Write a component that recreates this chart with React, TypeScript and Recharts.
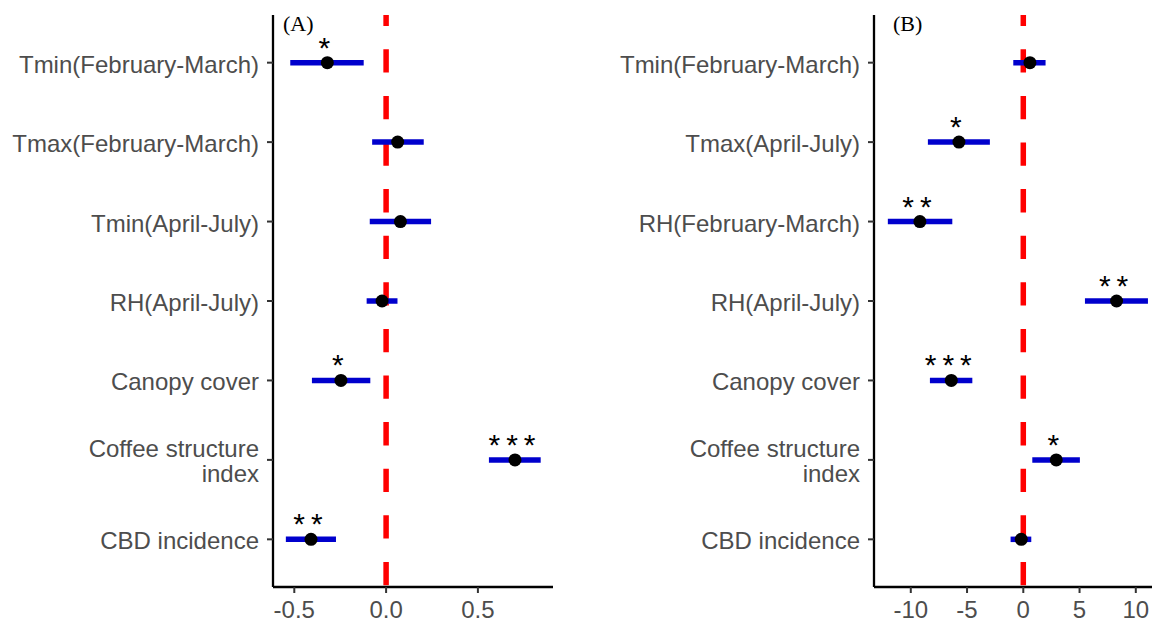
import { ScatterChart, Scatter, XAxis, YAxis, ErrorBar, ReferenceLine } from 'recharts';

// panel A
const labelsA = ['Tmin(February-March)', 'Tmax(February-March)', 'Tmin(April-July)', 'RH(April-July)', 'Canopy cover', 'Coffee structure\nindex', 'CBD incidence'];
const estA = [-0.32, 0.063, 0.078, -0.022, -0.246, 0.702, -0.409];
const lowA = [-0.522, -0.076, -0.089, -0.106, -0.404, 0.56, -0.546];
const highA = [-0.122, 0.205, 0.245, 0.062, -0.086, 0.842, -0.273];
const sigA = ['*', '', '', '', '*', '***', '**'];
const ticksA = [-0.5, 0, 0.5];

// panel B
const labelsB = ['Tmin(February-March)', 'Tmax(April-July)', 'RH(February-March)', 'RH(April-July)', 'Canopy cover', 'Coffee structure\nindex', 'CBD incidence'];
const estB = [0.59, -5.72, -9.19, 8.29, -6.4, 2.93, -0.18];
const lowB = [-0.89, -8.48, -12.04, 5.48, -8.3, 0.8, -1.13];
const highB = [1.98, -2.97, -6.31, 11.08, -4.53, 5.03, 0.71];
const sigB = ['', '*', '**', '**', '***', '*', ''];
const ticksB = [-10, -5, 0, 5, 10];

const font = '"Liberation Sans", Arial, sans-serif';

const Dot = (p: any) => (
  <g>
    <circle cx={p.cx} cy={p.cy} r={6.5} fill="#000" />
    {p.payload.sig ? (
      <text x={p.cx} y={p.cy - 5} textAnchor="middle" fontSize={30} letterSpacing={6} fontFamily={font} fill="#000">
        {p.payload.sig}
      </text>
    ) : null}
  </g>
);

const makeTick = (labels: string[]) => (p: any) => {
  const lines = labels[p.payload.value].split('\n');
  return (
    <g>
      {lines.map((l, i) => (
        <text key={i} x={p.x} y={p.y + 10 + (i - (lines.length - 1) / 2) * 25} textAnchor="end" fontSize={24} fontFamily={font} fill="#4d4d4d">
          {l}
        </text>
      ))}
    </g>
  );
};

function Panel(props: any) {
  const { labels, est, low, high, sig, ticks, domain, fmt, left, width, axisWidth, tag, tagLeft } = props;
  const data = est.map((v: number, i: number) => ({ idx: i, est: v, err: [v - low[i], high[i] - v], sig: sig[i] }));
  return (
    <div style={{ position: 'absolute', left, top: 0 }}>
      <ScatterChart width={width} height={621} margin={{ top: 15, right: 0, bottom: 4, left: 0 }}>
        <XAxis
          type="number"
          dataKey="est"
          domain={domain}
          allowDataOverflow
          ticks={ticks}
          tickFormatter={fmt}
          height={30}
          axisLine={{ stroke: '#000', strokeWidth: 2.3 }}
          tickLine={{ stroke: '#333', strokeWidth: 2 }}
          tickSize={6}
          tickMargin={8}
          tick={{ fill: '#4d4d4d', fontSize: 24, fontFamily: font }}
        />
        <YAxis
          type="number"
          dataKey="idx"
          domain={[-0.6, 6.6]}
          allowDataOverflow
          reversed
          ticks={[0, 1, 2, 3, 4, 5, 6]}
          width={axisWidth}
          axisLine={{ stroke: '#000', strokeWidth: 2.3 }}
          tickLine={{ stroke: '#333', strokeWidth: 2 }}
          tickSize={6}
          tickMargin={8}
          tick={makeTick(labels)}
        />
        <ReferenceLine x={0} stroke="#ff0000" strokeWidth={5.5} strokeDasharray="23.3 23.3" strokeDashoffset={44.8} />
        <Scatter data={data} shape={Dot} isAnimationActive={false}>
          <ErrorBar dataKey="err" direction="x" width={0} stroke="#0000cd" strokeWidth={5.5} />
        </Scatter>
      </ScatterChart>
      <div style={{ position: 'absolute', left: tagLeft, top: 13, fontFamily: '"Liberation Serif", serif', fontSize: 22, lineHeight: '22px', color: '#000' }}>
        {tag}
      </div>
    </div>
  );
}

export default function App() {
  return (
    <div style={{ position: 'absolute', left: 0, top: 0, width: 1152, height: 621, overflow: 'hidden', background: '#fff' }}>
      <Panel
        labels={labelsA}
        est={estA}
        low={lowA}
        high={highA}
        sig={sigA}
        ticks={ticksA}
        domain={[-0.616, 0.909]}
        fmt={(v: number) => v.toFixed(1)}
        left={0}
        width={553}
        axisWidth={273}
        tag="(A)"
        tagLeft={283}
      />
      <Panel
        labels={labelsB}
        est={estB}
        low={lowB}
        high={highB}
        sig={sigB}
        ticks={ticksB}
        domain={[-13.27, 12.24]}
        fmt={(v: number) => String(v)}
        left={560}
        width={601}
        axisWidth={314}
        tag="(B)"
        tagLeft={333}
      />
    </div>
  );
}
